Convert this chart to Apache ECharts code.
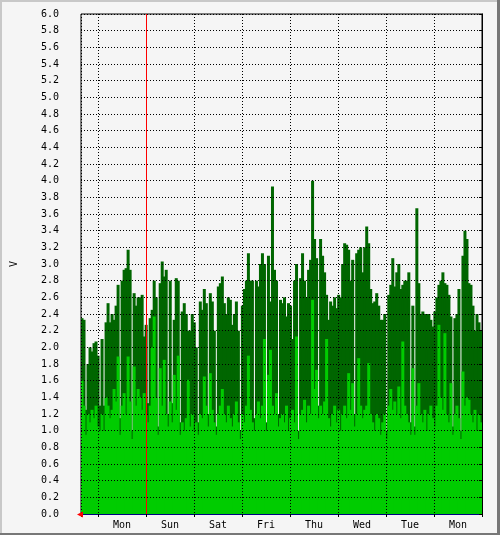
<!DOCTYPE html>
<html>
<head>
<meta charset="utf-8">
<script src="https://cdn.jsdelivr.net/npm/echarts@6/dist/echarts.min.js"></script>
<style>
  html, body { margin: 0; padding: 0; background: #f5f5f5; }
  #c { width: 500px; height: 535px; }
</style>
</head>
<body>
<div id="c"></div>
<script>
// Day labels, left to right
const dayLabels = ['Mon', 'Sun', 'Sat', 'Fri', 'Thu', 'Wed', 'Tue', 'Mon'];
// Vertical rule position (days counted from the right edge)
const redRuleDay = 7;
// Y ticks
const yMin = 0, yMax = 6, yStep = 0.2;

// Maximum values (dark green), one per 2-px column, left to right
const maxValues = [
  2.35, 2.33, 1.25, 1.8, 2.0, 1.95, 2.05, 2.07, 1.9, 1.3,
  2.1, 1.3, 2.3, 2.53, 2.3, 2.4, 2.33, 2.5, 2.75, 1.15,
  2.8, 2.93, 2.95, 3.17, 2.93, 1.0, 2.65, 2.5, 2.6, 2.6,
  2.63, 2.13, 2.27, 1.33, 2.35, 2.45, 2.8, 2.6, 1.05, 2.77,
  3.03, 2.85, 2.93, 1.2, 2.8, 1.33, 2.33, 2.83, 2.8, 1.1,
  2.43, 2.53, 2.4, 2.2, 2.2, 2.4, 2.3, 2.0, 1.1, 2.55,
  2.45, 2.7, 2.53, 1.2, 2.65, 2.55, 2.2, 1.05, 2.73, 2.77,
  2.85, 2.53, 2.4, 2.6, 2.57, 2.27, 2.4, 2.55, 2.2, 1.0,
  2.5, 2.7, 2.8, 3.13, 2.8, 2.8, 1.15, 2.8, 2.73, 3.0,
  3.13, 3.0, 1.1, 3.1, 2.55, 3.93, 2.93, 2.8, 1.2, 2.57,
  2.53, 2.6, 2.37, 2.53, 2.5, 2.1, 2.8, 3.0, 1.0, 2.83,
  3.13, 2.8, 2.6, 2.93, 3.05, 4.0, 3.3, 3.07, 1.3, 3.3,
  3.1, 2.9, 2.63, 2.33, 2.55, 2.5, 2.6, 2.47, 2.63, 2.6,
  3.0, 3.25, 3.23, 3.17, 2.8, 3.05, 1.2, 3.13, 3.17, 3.2,
  2.9, 3.2, 3.45, 3.25, 2.7, 2.53, 2.55, 2.65, 2.5, 2.33,
  2.33, 2.4, 1.0, 2.63, 2.75, 3.07, 2.73, 2.9, 3.0, 2.7,
  2.75, 2.8, 2.8, 2.9, 1.1, 2.5, 1.05, 3.67, 2.77, 2.4,
  2.43, 2.4, 2.4, 2.4, 2.33, 2.25, 2.43, 2.6, 2.75, 2.8,
  2.9, 2.77, 2.75, 2.63, 2.37, 1.05, 2.35, 2.4, 2.7, 1.0,
  3.1, 3.4, 3.3, 2.77, 2.75, 2.5, 2.2, 2.4, 2.3, 2.2
];

// Average values (bright green), one per 2-px column, left to right
const avgValues = [
  1.6, 1.3, 0.95, 1.2, 1.1, 1.25, 1.15, 1.3, 1.05, 1.0,
  1.2, 1.0, 1.4, 1.3, 1.15, 1.25, 1.5, 1.35, 1.89, 0.95,
  1.3, 1.45, 1.2, 1.89, 1.35, 0.9, 1.77, 1.3, 1.5, 1.4,
  1.25, 1.45, 1.2, 1.1, 1.3, 2.0, 2.37, 1.4, 0.95, 1.75,
  1.3, 1.85, 1.2, 1.05, 1.35, 1.1, 1.67, 1.25, 1.9, 0.95,
  1.1, 1.0, 1.15, 1.61, 1.05, 1.2, 1.0, 1.1, 0.95, 1.2,
  1.15, 1.65, 1.3, 1.05, 1.69, 1.25, 1.1, 0.95, 1.2, 1.3,
  1.5, 1.2, 1.1, 1.3, 1.15, 1.05, 1.2, 1.35, 1.1, 0.9,
  1.2, 1.1, 1.3, 1.9, 1.25, 1.1, 1.0, 1.2, 1.35, 1.15,
  1.3, 2.1, 1.0, 1.67, 1.97, 1.3, 1.2, 1.45, 1.05, 1.15,
  1.2, 1.1, 1.3, 1.0, 1.15, 1.25, 1.1, 2.13, 0.9, 1.2,
  1.25, 1.37, 1.1, 1.3, 1.2, 2.57, 1.5, 1.73, 1.15, 1.3,
  1.2, 1.35, 2.1, 1.15, 1.05, 1.2, 1.3, 1.1, 1.25, 1.0,
  1.2, 1.3, 1.15, 1.69, 1.25, 1.57, 1.05, 1.2, 1.87, 1.3,
  1.15, 1.25, 1.3, 1.81, 1.2, 1.1, 1.0, 1.2, 1.15, 0.95,
  1.1, 1.2, 0.9, 1.3, 1.5, 1.25, 1.35, 1.2, 1.53, 1.15,
  2.07, 1.3, 1.2, 1.1, 0.95, 1.75, 0.95, 1.3, 1.57, 1.2,
  1.1, 1.25, 1.0, 1.2, 1.3, 1.15, 1.05, 1.3, 2.27, 1.4,
  1.25, 2.17, 1.2, 1.1, 1.57, 0.95, 1.2, 1.3, 1.15, 0.9,
  1.71, 1.3, 1.4, 1.37, 1.2, 1.1, 1.25, 1.0, 1.2, 1.1
];

const FONT = 'DejaVu Sans Mono';
const plotW = 401, plotH = 500, dayPx = 48;
const spanDays = plotW / dayPx;
const cats = maxValues.map((_, i) => i);

const chart = echarts.init(document.getElementById('c'), null, { renderer: 'canvas' });
chart.setOption({
  animation: false,
  backgroundColor: '#f5f5f5',
  grid: {
    left: 81, top: 14, width: plotW, height: plotH,
    show: true, borderColor: '#000', borderWidth: 1, backgroundColor: 'transparent'
  },
  xAxis: [
    {
      type: 'value', position: 'bottom', inverse: true, min: 0, max: spanDays, interval: 1, z: 5,
      axisLine: { show: true, onZero: false, lineStyle: { color: '#000080', width: 1 } },
      axisTick: { show: true, length: 3, lineStyle: { color: '#000' } },
      axisLabel: { show: false },
      splitLine: { show: true, lineStyle: { color: '#000', type: [1, 2], width: 1 } }
    },
    {
      type: 'value', position: 'bottom', inverse: true, min: 0, max: spanDays * 2, interval: 1,
      axisLine: { show: false, onZero: false }, axisTick: { show: false }, splitLine: { show: false },
      axisLabel: {
        show: true, margin: 6, fontFamily: FONT, fontSize: 10, color: '#000',
        showMinLabel: false, showMaxLabel: false,
        formatter: function (v) {
          const r = Math.round(v);
          if (Math.abs(v - r) > 1e-6 || r % 2 !== 1) return '';
          const idx = 7 - (r - 1) / 2;
          return dayLabels[idx] || '';
        }
      }
    },
    { type: 'category', position: 'top', data: cats, show: false, boundaryGap: true }
  ],
  yAxis: [
    {
      type: 'value', min: yMin, max: yMax, interval: yStep, z: 5,
      name: 'V', nameLocation: 'middle', nameGap: 62, nameRotate: 90,
      nameTextStyle: { fontFamily: FONT, fontSize: 10, color: '#000' },
      axisLine: { show: true, lineStyle: { color: '#000' } },
      axisTick: { show: true, length: 3, lineStyle: { color: '#000' } },
      axisLabel: { margin: 22, fontFamily: FONT, fontSize: 10, color: '#000',
        formatter: v => v.toFixed(1) },
      splitLine: { show: true, lineStyle: { color: '#000', type: [1, 2], width: 1 } }
    },
    {
      type: 'value', position: 'right', min: yMin, max: yMax, interval: yStep, z: 5,
      axisLine: { show: true, lineStyle: { color: '#000' } },
      axisTick: { show: true, inside: true, length: 3, lineStyle: { color: '#000' } },
      axisLabel: { show: false }, splitLine: { show: false }
    }
  ],
  series: [
    {
      name: 'max', type: 'bar', xAxisIndex: 2, yAxisIndex: 0, data: maxValues,
      barWidth: 3, barGap: '-100%', itemStyle: { color: '#006600' }, z: 1
    },
    {
      name: 'avg', type: 'bar', xAxisIndex: 2, yAxisIndex: 0, data: avgValues,
      barWidth: 3, barGap: '-100%', itemStyle: { color: '#00cc00' }, z: 1
    },
    {
      name: 'rule', type: 'line', xAxisIndex: 0, yAxisIndex: 0, data: [], z: 10,
      markLine: {
        silent: true, symbol: 'none', animation: false,
        lineStyle: { color: '#ff0000', width: 1, type: 'solid' },
        label: { show: false },
        data: [{ xAxis: redRuleDay }]
      }
    }
  ],
  graphic: [
    { type: 'polygon', z: 100, shape: { points: [[77, 514.5], [83, 511.5], [83, 517.5]] }, style: { fill: '#ff0000' } },
    { type: 'rect', z: 100, shape: { x: 0, y: 0, width: 500, height: 2 }, style: { fill: '#c8c8c8' } },
    { type: 'rect', z: 100, shape: { x: 0, y: 0, width: 2, height: 535 }, style: { fill: '#c8c8c8' } },
    { type: 'rect', z: 100, shape: { x: 497, y: 0, width: 3, height: 535 }, style: { fill: '#777777' } },
    { type: 'rect', z: 100, shape: { x: 0, y: 533, width: 500, height: 2 }, style: { fill: '#777777' } }
  ]
});
</script>
</body>
</html>
